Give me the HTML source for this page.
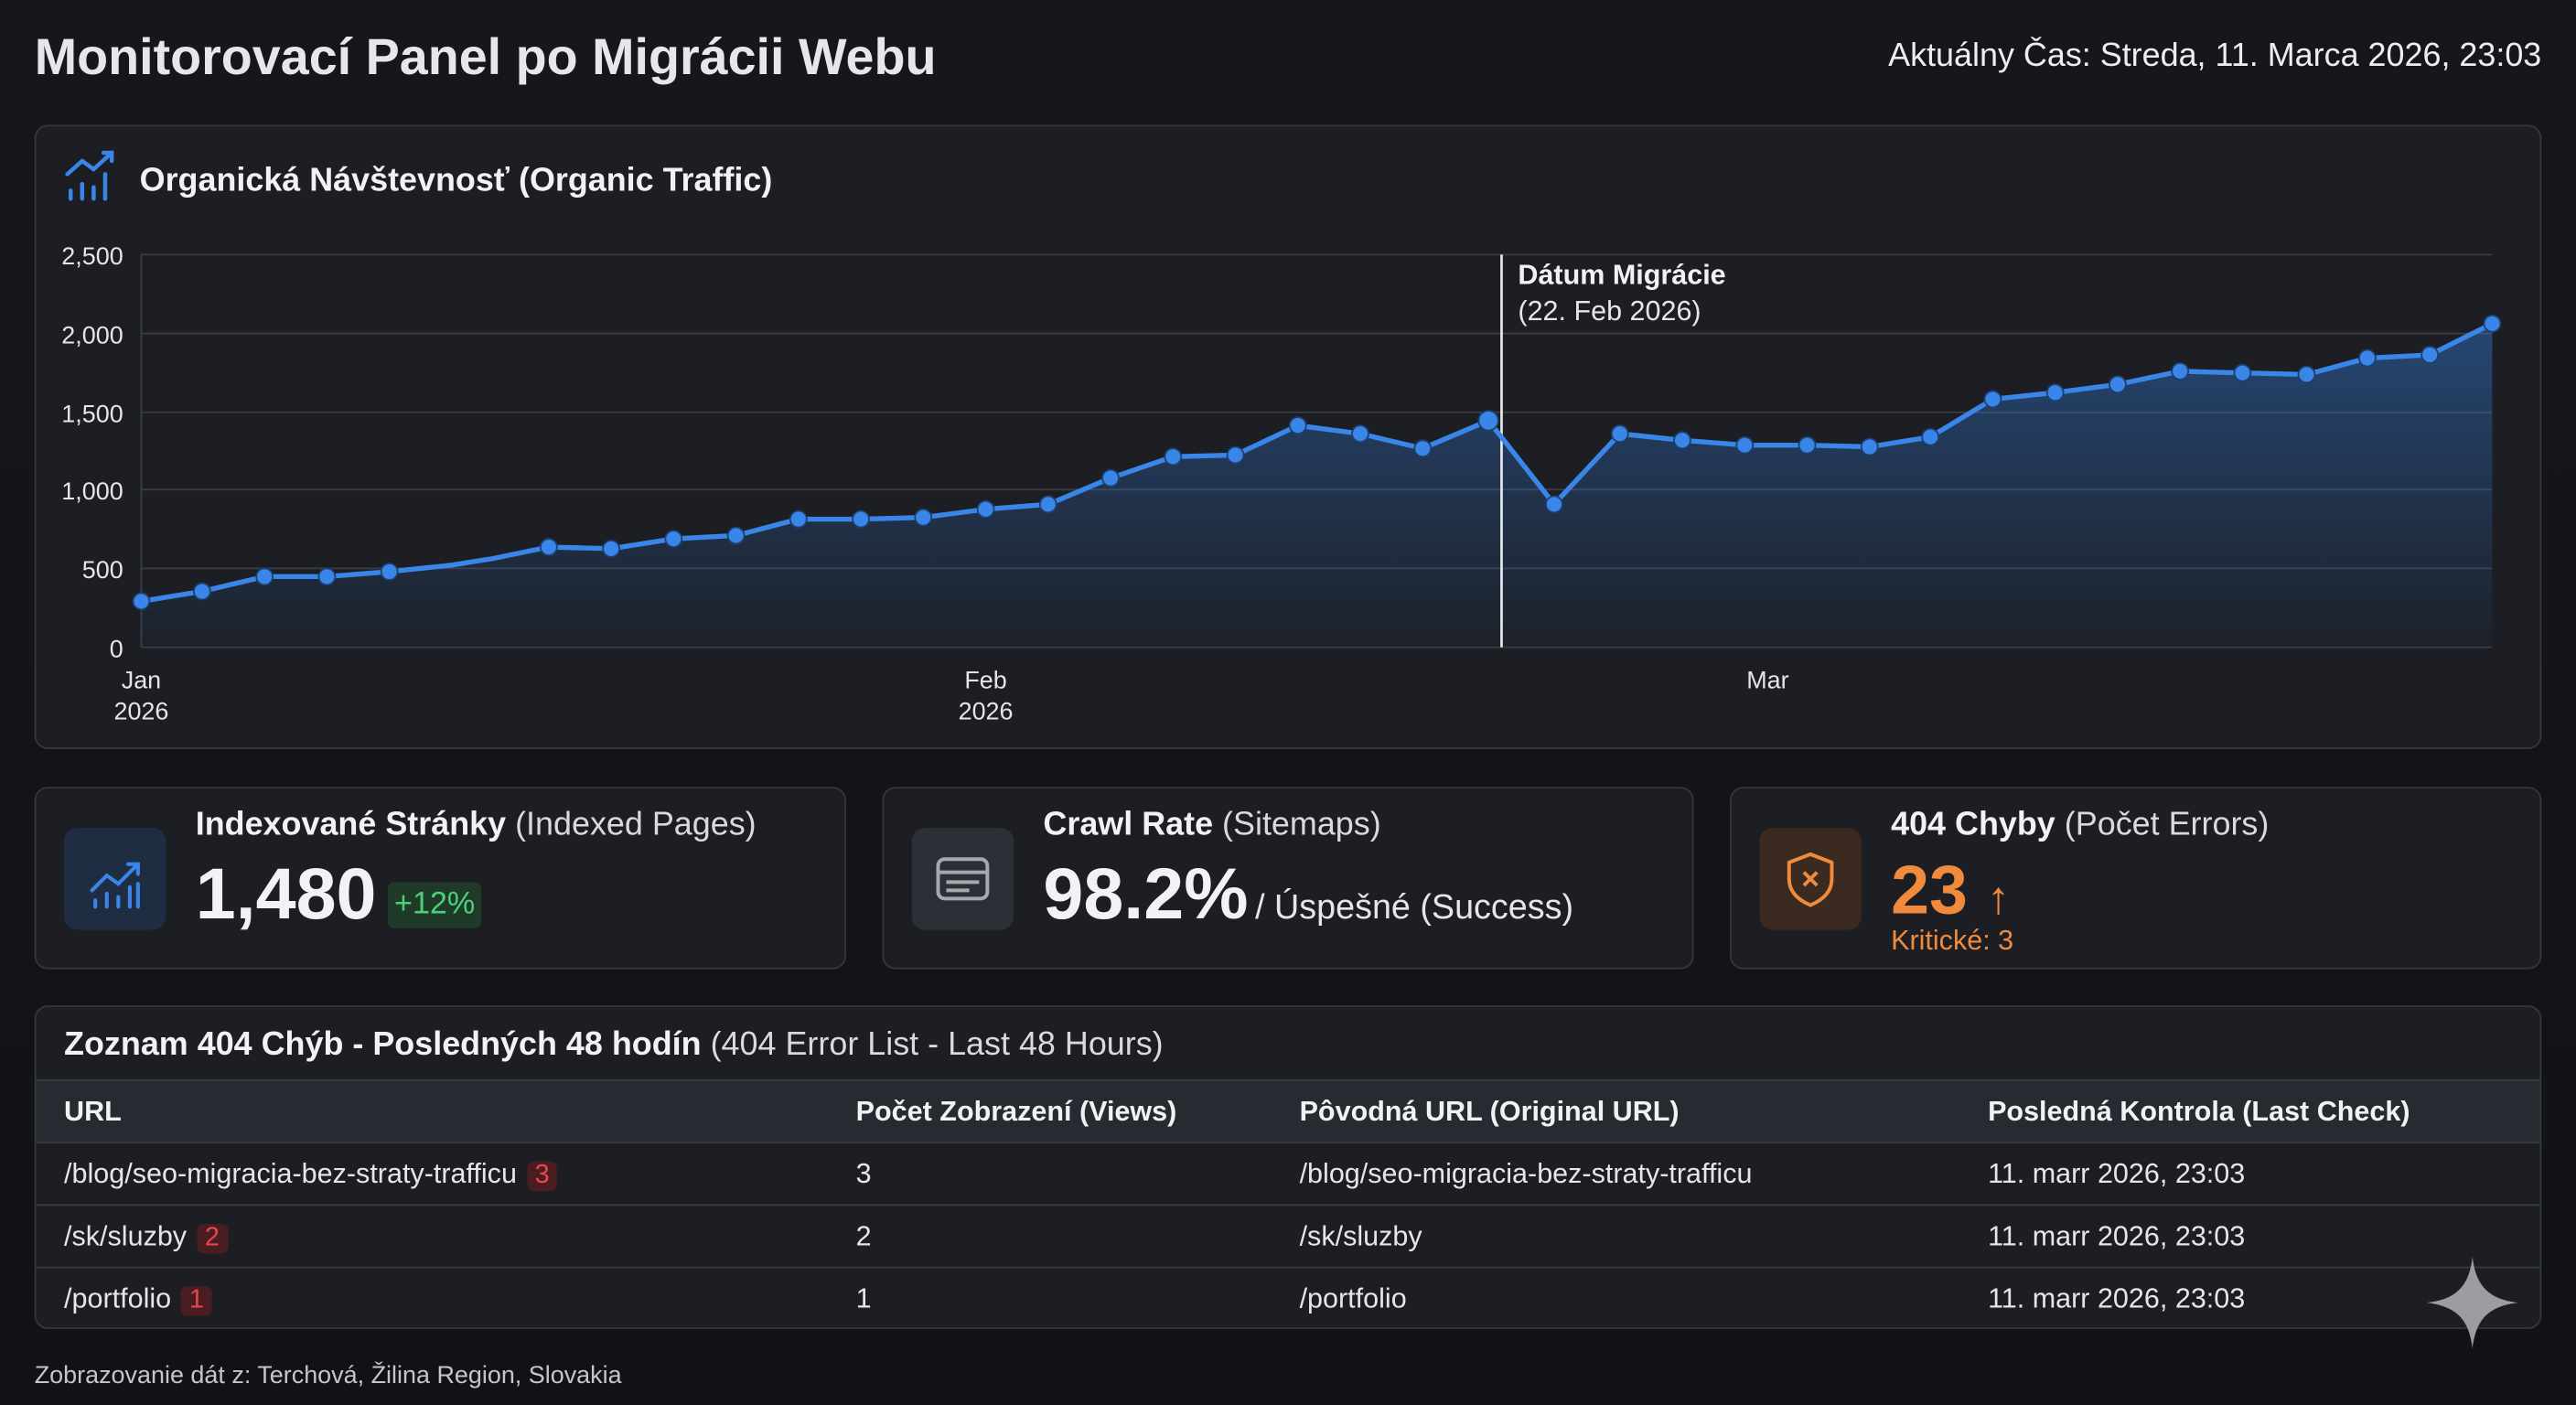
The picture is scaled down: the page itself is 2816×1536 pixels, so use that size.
<!DOCTYPE html>
<html><head><meta charset="utf-8"><style>
html,body{margin:0;padding:0;background:#121419;}
body{width:2816px;height:1536px;overflow:hidden;}
#w{position:absolute;left:0;top:0;width:1568px;height:855px;transform:scale(1.79592);transform-origin:0 0;font-family:"Liberation Sans",sans-serif;color:#f1f2f4;background:linear-gradient(180deg,#15171c,#101216);}
.a{position:absolute;white-space:nowrap;}
.card{position:absolute;background:#1c1e23;border:1px solid #34373d;border-radius:8px;box-sizing:border-box;}
.ib{position:absolute;left:17px;top:24px;width:62px;height:62px;border-radius:8px;}
.t{font-size:20px;}
.t b{font-weight:600}
.t span{color:#d8dadd}
.row{position:absolute;left:0;right:0;height:38px;border-top:1px solid #3a3d44;font-size:17px;color:#e4e6e9;}
.row div{position:absolute;top:9px;white-space:nowrap;}
.bd{display:inline-block;background:#4a1d22;color:#e5484d;border-radius:4px;padding:0 5px;margin-left:6px;font-size:16px;}
</style></head><body><div id="w">
<div class="a" style="left:21px;top:17px;font-size:31px;font-weight:bold;color:#e6e7ea">Monitorovací Panel po Migrácii Webu</div>
<div class="a" style="right:21px;top:23px;font-size:20px;color:#eceef0">Aktuálny Čas: Streda, 11. Marca 2026, 23:03</div>

<div class="card" style="left:21px;top:76px;width:1526px;height:380px;"></div>
<svg class="a" style="left:0;top:0" width="1568" height="460">
<defs><linearGradient id="g" x1="0" y1="0" x2="0" y2="1"><stop offset="0" stop-color="#2f6fc4" stop-opacity="0.5"/><stop offset="1" stop-color="#2f6fc4" stop-opacity="0.04"/></linearGradient></defs>
<g stroke="#3a86e8" stroke-width="2.5" fill="none" stroke-linecap="round">
<polyline points="41,106 50,98 57,103 68,93"/><polyline points="63,93 68,93 68,98"/>
<line x1="43" y1="121" x2="43" y2="116"/><line x1="50" y1="121" x2="50" y2="112"/><line x1="57" y1="121" x2="57" y2="114"/><line x1="64" y1="121" x2="64" y2="106"/>
</g>
<text x="85" y="116" font-size="20" font-weight="600" fill="#f1f2f4" font-family="Liberation Sans">Organická Návštevnosť (Organic Traffic)</text>
<g stroke="#3a3d44" stroke-width="1">
<line x1="86" y1="155" x2="1517" y2="155"/><line x1="86" y1="203" x2="1517" y2="203"/><line x1="86" y1="251" x2="1517" y2="251"/><line x1="86" y1="298" x2="1517" y2="298"/><line x1="86" y1="346" x2="1517" y2="346"/><line x1="86" y1="394" x2="1517" y2="394"/><line x1="86" y1="155" x2="86" y2="394"/></g>
<g font-size="15" fill="#e4e6e9" text-anchor="end" font-family="Liberation Sans">
<text x="75" y="161">2,500</text><text x="75" y="209">2,000</text><text x="75" y="257">1,500</text><text x="75" y="304">1,000</text><text x="75" y="352">500</text><text x="75" y="400">0</text></g>
<g font-size="15" fill="#e4e6e9" text-anchor="middle" font-family="Liberation Sans">
<text x="86" y="419">Jan</text><text x="86" y="438">2026</text><text x="600" y="419">Feb</text><text x="600" y="438">2026</text><text x="1076" y="419">Mar</text></g>
<polygon fill="url(#g)" points="86,394 86,366 123,360 161,351 199,351 237,348 275,344 300,340 334,333 372,334 410,328 448,326 486,316 524,316 562,315 600,310 638,307 676,291 714,278 752,277 790,259 828,264 866,273 906,256 946,307 986,264 1024,268 1062,271 1100,271 1138,272 1175,266 1213,243 1251,239 1289,234 1327,226 1365,227 1404,228 1441,218 1479,216 1517,197 1517,394"/>
<line x1="914" y1="155" x2="914" y2="394" stroke="#e8eaed" stroke-width="1.5"/>
<text x="924" y="173" font-size="17" font-weight="600" fill="#f1f2f4" font-family="Liberation Sans">Dátum Migrácie</text>
<text x="924" y="195" font-size="17" fill="#e4e6e9" font-family="Liberation Sans">(22. Feb 2026)</text>
<polyline fill="none" stroke="#3a86e8" stroke-width="3" stroke-linejoin="round" points="86,366 123,360 161,351 199,351 237,348 275,344 300,340 334,333 372,334 410,328 448,326 486,316 524,316 562,315 600,310 638,307 676,291 714,278 752,277 790,259 828,264 866,273 906,256 946,307 986,264 1024,268 1062,271 1100,271 1138,272 1175,266 1213,243 1251,239 1289,234 1327,226 1365,227 1404,228 1441,218 1479,216 1517,197"/>
<g fill="#3a86e8" stroke="#1d3f6e" stroke-width="1">
<circle cx="86" cy="366" r="5"/><circle cx="123" cy="360" r="5"/><circle cx="161" cy="351" r="5"/><circle cx="199" cy="351" r="5"/><circle cx="237" cy="348" r="5"/><circle cx="334" cy="333" r="5"/><circle cx="372" cy="334" r="5"/><circle cx="410" cy="328" r="5"/><circle cx="448" cy="326" r="5"/><circle cx="486" cy="316" r="5"/><circle cx="524" cy="316" r="5"/><circle cx="562" cy="315" r="5"/><circle cx="600" cy="310" r="5"/><circle cx="638" cy="307" r="5"/><circle cx="676" cy="291" r="5"/><circle cx="714" cy="278" r="5"/><circle cx="752" cy="277" r="5"/><circle cx="790" cy="259" r="5"/><circle cx="828" cy="264" r="5"/><circle cx="866" cy="273" r="5"/><circle cx="906" cy="256" r="6"/><circle cx="946" cy="307" r="5"/><circle cx="986" cy="264" r="5"/><circle cx="1024" cy="268" r="5"/><circle cx="1062" cy="271" r="5"/><circle cx="1100" cy="271" r="5"/><circle cx="1138" cy="272" r="5"/><circle cx="1175" cy="266" r="5"/><circle cx="1213" cy="243" r="5"/><circle cx="1251" cy="239" r="5"/><circle cx="1289" cy="234" r="5"/><circle cx="1327" cy="226" r="5"/><circle cx="1365" cy="227" r="5"/><circle cx="1404" cy="228" r="5"/><circle cx="1441" cy="218" r="5"/><circle cx="1479" cy="216" r="5"/><circle cx="1517" cy="197" r="5"/></g>
</svg>

<div class="card" style="left:21px;top:479px;width:494px;height:111px;">
<div class="ib" style="background:#1f2d42"><svg width="62" height="62"><g stroke="#3a86e8" stroke-width="2.3" fill="none" stroke-linecap="round"><polyline points="17,38 26,29 33,34 45,22"/><polyline points="39,22 45,22 45,28"/><line x1="19" y1="48" x2="19" y2="44"/><line x1="26" y1="48" x2="26" y2="40"/><line x1="33" y1="48" x2="33" y2="42"/><line x1="40" y1="48" x2="40" y2="36"/><line x1="45" y1="48" x2="45" y2="34"/></g></svg></div>
<div class="a t" style="left:97px;top:11px"><b>Indexované Stránky</b> <span>(Indexed Pages)</span></div>
<div class="a" style="left:97px;top:40px;font-size:44px;font-weight:bold">1,480</div>
<div class="a" style="left:214px;top:57px;background:#1f3a29;color:#4ccf78;font-size:19px;padding:3px 4px;border-radius:4px">+12%</div>
</div>
<div class="card" style="left:537px;top:479px;width:494px;height:111px;">
<div class="ib" style="background:#2c2f35"><svg width="62" height="62"><g stroke="#a5a8ad" stroke-width="2.2" fill="none"><rect x="16" y="19" width="30" height="24" rx="4"/><line x1="16" y1="27" x2="46" y2="27"/><line x1="21" y1="33" x2="41" y2="33"/><line x1="21" y1="38" x2="35" y2="38"/></g></svg></div>
<div class="a t" style="left:97px;top:11px"><b>Crawl Rate</b> <span>(Sitemaps)</span></div>
<div class="a" style="left:97px;top:40px;font-size:44px;font-weight:bold">98.2%</div>
<div class="a" style="left:226px;top:61px;font-size:21px;color:#e4e6e9">/ Úspešné (Success)</div>
</div>
<div class="card" style="left:1053px;top:479px;width:494px;height:111px;">
<div class="ib" style="background:#3a2a1f"><svg width="62" height="62"><g stroke="#f08a3c" stroke-width="2.2" fill="none" stroke-linejoin="round"><path d="M31 16 L44 21 L44 31 C44 39 38 44 31 47 C24 44 18 39 18 31 L18 21 Z"/><line x1="27" y1="27" x2="35" y2="35"/><line x1="35" y1="27" x2="27" y2="35"/></g></svg></div>
<div class="a t" style="left:97px;top:11px"><b>404 Chyby</b> <span>(Počet Errors)</span></div>
<div class="a" style="left:97px;top:38px;font-size:42px;font-weight:bold;color:#f08a3c">23 <span style="font-size:28px;font-weight:normal">↑</span></div>
<div class="a" style="left:97px;top:83px;font-size:17px;color:#f08a3c">Kritické: 3</div>
</div>

<div class="card" style="left:21px;top:612px;width:1526px;height:197px;overflow:hidden">
<div class="a t" style="left:17px;top:12px"><b>Zoznam 404 Chýb - Posledných 48 hodín</b> <span>(404 Error List - Last 48 Hours)</span></div>
<div class="row" style="top:44px;background:#272a30;font-weight:600;color:#f1f2f4"><div style="left:17px">URL</div><div style="left:499px">Počet Zobrazení (Views)</div><div style="left:769px">Pôvodná URL (Original URL)</div><div style="left:1188px">Posledná Kontrola (Last Check)</div></div>
<div class="row" style="top:82px"><div style="left:17px">/blog/seo-migracia-bez-straty-trafficu<span class="bd">3</span></div><div style="left:499px">3</div><div style="left:769px">/blog/seo-migracia-bez-straty-trafficu</div><div style="left:1188px">11. marr 2026, 23:03</div></div>
<div class="row" style="top:120px"><div style="left:17px">/sk/sluzby<span class="bd">2</span></div><div style="left:499px">2</div><div style="left:769px">/sk/sluzby</div><div style="left:1188px">11. marr 2026, 23:03</div></div>
<div class="row" style="top:158px;border-bottom:1px solid #3a3d44"><div style="left:17px">/portfolio<span class="bd">1</span></div><div style="left:499px">1</div><div style="left:769px">/portfolio</div><div style="left:1188px">11. marr 2026, 23:03</div></div>
</div>
<svg class="a" style="left:1477px;top:765px" width="56" height="56"><path d="M28 0 C30 18 38 26 56 28 C38 30 30 38 28 56 C26 38 18 30 0 28 C18 26 26 18 28 0Z" fill="#9c9da0"/></svg>
<div class="a" style="left:21px;top:829px;font-size:15px;color:#c4c6ca">Zobrazovanie dát z: Terchová, Žilina Region, Slovakia</div>
</div></body></html>
